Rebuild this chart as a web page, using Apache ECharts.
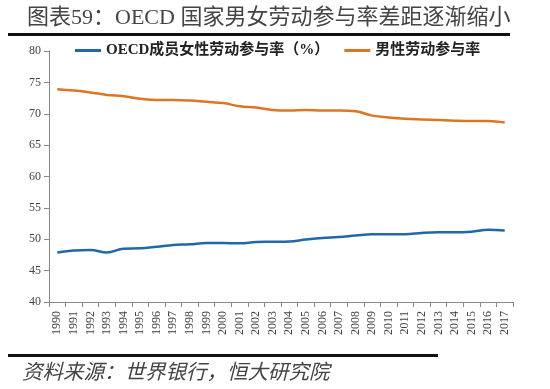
<!DOCTYPE html>
<html><head><meta charset="utf-8">
<script src="https://cdn.jsdelivr.net/npm/echarts@6/dist/echarts.min.js"></script>
<style>html,body{margin:0;padding:0;background:#fff}#c{width:550px;height:389px}</style>
</head><body><div id="c"></div>
<script>
const years = ['1990','1991','1992','1993','1994','1995','1996','1997','1998','1999','2000','2001','2002','2003','2004','2005','2006','2007','2008','2009','2010','2011','2012','2013','2014','2015','2016','2017'];
const female = [47.9,48.2,48.3,47.9,48.5,48.55,48.8,49.1,49.2,49.4,49.4,49.35,49.55,49.6,49.65,49.95,50.2,50.35,50.6,50.8,50.8,50.8,51.0,51.1,51.1,51.2,51.5,51.4];
const male = [73.9,73.7,73.4,73.0,72.8,72.4,72.2,72.2,72.1,71.9,71.7,71.2,71.0,70.6,70.5,70.6,70.5,70.5,70.4,69.7,69.4,69.2,69.1,69.0,68.9,68.85,68.85,68.6];
const yTicks = [40,45,50,55,60,65,70,75,80];
const seriesNames = ['OECD成员女性劳动参与率（%）','男性劳动参与率'];
const titleText = '图表59：OECD 国家男女劳动参与率差距逐渐缩小';
const sourceText = '资料来源：世界银行，恒大研究院';

const chart = echarts.init(document.getElementById('c'), null, {renderer:'canvas'});
chart.setOption({
  animation:false,
  backgroundColor:'#fff',
  grid:{left:49,right:37,top:51,bottom:87},
  legend:{
    top:38,left:70,itemWidth:26,itemHeight:3,itemGap:15,
    icon:'rect',
    textStyle:{fontFamily:'Liberation Serif, Noto Sans CJK SC',fontWeight:'bold',fontSize:15,color:'#222'},
    data:seriesNames
  },
  xAxis:{
    type:'category',data:years,boundaryGap:true,
    axisLine:{lineStyle:{color:'#888'}},
    axisTick:{show:true,alignWithLabel:false,length:5,lineStyle:{color:'#888'}},
    axisLabel:{rotate:90,interval:0,fontFamily:'Liberation Serif',fontSize:12,color:'#444',margin:9}
  },
  yAxis:{
    type:'value',min:yTicks[0],max:yTicks[yTicks.length-1],interval:5,
    axisLine:{show:true,lineStyle:{color:'#888'}},
    axisTick:{show:true,length:5,lineStyle:{color:'#888'}},
    splitLine:{show:false},
    axisLabel:{fontFamily:'Liberation Serif',fontSize:12,color:'#444',margin:8}
  },
  series:[
    {name:seriesNames[0],type:'line',data:female,smooth:0.4,showSymbol:false,
     lineStyle:{width:2.5,color:'#2068A8'},itemStyle:{color:'#2068A8'}},
    {name:seriesNames[1],type:'line',data:male,smooth:0.4,showSymbol:false,
     lineStyle:{width:2.5,color:'#DE7424'},itemStyle:{color:'#DE7424'}}
  ],
  graphic:[
    {type:'text',left:27,top:7,style:{text:titleText,font:'22px "Liberation Serif", "Noto Sans CJK SC"',fill:'#444'}},
    {type:'rect',shape:{x:8,y:33,width:502,height:3},style:{fill:'#111'}},
    {type:'rect',shape:{x:8,y:354,width:430,height:3},style:{fill:'#111'}},
    {type:'text',left:22,top:361,style:{text:sourceText,font:'italic 20.5px "Noto Sans CJK SC"',fill:'#444'}}
  ]
});
</script></body></html>
